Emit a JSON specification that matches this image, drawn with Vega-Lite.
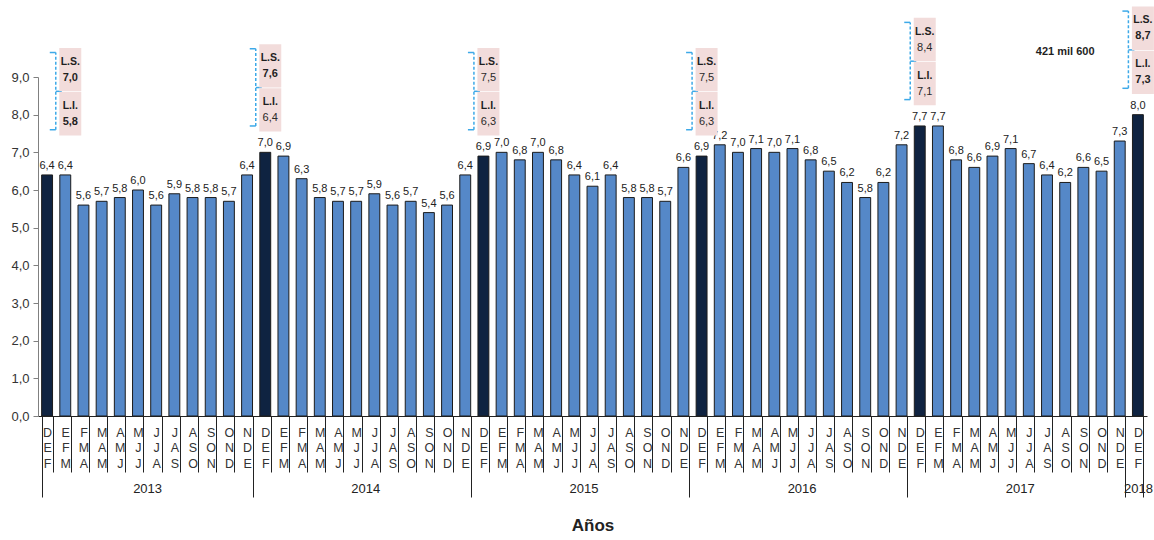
{
  "$schema": "https://vega.github.io/schema/vega-lite/v6.json",
  "autosize": {"type": "none"},
  "padding": {"left": 38, "top": 77, "right": 7, "bottom": 124},
  "width": 1109,
  "height": 339,
  "background": "white",
  "config": {
    "view": {"stroke": null},
    "font": "Liberation Sans",
    "text": {"font": "Liberation Sans"}
  },
  "data": {
    "values": [
      {"key": "2013 DEF", "year": 2013, "period": "DEF", "value": 6.4, "ls": 7.0, "li": 5.8},
      {"key": "2013 EFM", "year": 2013, "period": "EFM", "value": 6.4},
      {"key": "2013 FMA", "year": 2013, "period": "FMA", "value": 5.6},
      {"key": "2013 MAM", "year": 2013, "period": "MAM", "value": 5.7},
      {"key": "2013 AMJ", "year": 2013, "period": "AMJ", "value": 5.8},
      {"key": "2013 MJJ", "year": 2013, "period": "MJJ", "value": 6.0},
      {"key": "2013 JJA", "year": 2013, "period": "JJA", "value": 5.6},
      {"key": "2013 JAS", "year": 2013, "period": "JAS", "value": 5.9},
      {"key": "2013 ASO", "year": 2013, "period": "ASO", "value": 5.8},
      {"key": "2013 SON", "year": 2013, "period": "SON", "value": 5.8},
      {"key": "2013 OND", "year": 2013, "period": "OND", "value": 5.7},
      {"key": "2013 NDE", "year": 2013, "period": "NDE", "value": 6.4},
      {"key": "2014 DEF", "year": 2014, "period": "DEF", "value": 7.0, "ls": 7.6, "li": 6.4},
      {"key": "2014 EFM", "year": 2014, "period": "EFM", "value": 6.9},
      {"key": "2014 FMA", "year": 2014, "period": "FMA", "value": 6.3},
      {"key": "2014 MAM", "year": 2014, "period": "MAM", "value": 5.8},
      {"key": "2014 AMJ", "year": 2014, "period": "AMJ", "value": 5.7},
      {"key": "2014 MJJ", "year": 2014, "period": "MJJ", "value": 5.7},
      {"key": "2014 JJA", "year": 2014, "period": "JJA", "value": 5.9},
      {"key": "2014 JAS", "year": 2014, "period": "JAS", "value": 5.6},
      {"key": "2014 ASO", "year": 2014, "period": "ASO", "value": 5.7},
      {"key": "2014 SON", "year": 2014, "period": "SON", "value": 5.4},
      {"key": "2014 OND", "year": 2014, "period": "OND", "value": 5.6},
      {"key": "2014 NDE", "year": 2014, "period": "NDE", "value": 6.4},
      {"key": "2015 DEF", "year": 2015, "period": "DEF", "value": 6.9, "ls": 7.5, "li": 6.3},
      {"key": "2015 EFM", "year": 2015, "period": "EFM", "value": 7.0},
      {"key": "2015 FMA", "year": 2015, "period": "FMA", "value": 6.8},
      {"key": "2015 MAM", "year": 2015, "period": "MAM", "value": 7.0},
      {"key": "2015 AMJ", "year": 2015, "period": "AMJ", "value": 6.8},
      {"key": "2015 MJJ", "year": 2015, "period": "MJJ", "value": 6.4},
      {"key": "2015 JJA", "year": 2015, "period": "JJA", "value": 6.1},
      {"key": "2015 JAS", "year": 2015, "period": "JAS", "value": 6.4},
      {"key": "2015 ASO", "year": 2015, "period": "ASO", "value": 5.8},
      {"key": "2015 SON", "year": 2015, "period": "SON", "value": 5.8},
      {"key": "2015 OND", "year": 2015, "period": "OND", "value": 5.7},
      {"key": "2015 NDE", "year": 2015, "period": "NDE", "value": 6.6},
      {"key": "2016 DEF", "year": 2016, "period": "DEF", "value": 6.9, "ls": 7.5, "li": 6.3},
      {"key": "2016 EFM", "year": 2016, "period": "EFM", "value": 7.2},
      {"key": "2016 FMA", "year": 2016, "period": "FMA", "value": 7.0},
      {"key": "2016 MAM", "year": 2016, "period": "MAM", "value": 7.1},
      {"key": "2016 AMJ", "year": 2016, "period": "AMJ", "value": 7.0},
      {"key": "2016 MJJ", "year": 2016, "period": "MJJ", "value": 7.1},
      {"key": "2016 JJA", "year": 2016, "period": "JJA", "value": 6.8},
      {"key": "2016 JAS", "year": 2016, "period": "JAS", "value": 6.5},
      {"key": "2016 ASO", "year": 2016, "period": "ASO", "value": 6.2},
      {"key": "2016 SON", "year": 2016, "period": "SON", "value": 5.8},
      {"key": "2016 OND", "year": 2016, "period": "OND", "value": 6.2},
      {"key": "2016 NDE", "year": 2016, "period": "NDE", "value": 7.2},
      {"key": "2017 DEF", "year": 2017, "period": "DEF", "value": 7.7, "ls": 8.4, "li": 7.1},
      {"key": "2017 EFM", "year": 2017, "period": "EFM", "value": 7.7},
      {"key": "2017 FMA", "year": 2017, "period": "FMA", "value": 6.8},
      {"key": "2017 MAM", "year": 2017, "period": "MAM", "value": 6.6},
      {"key": "2017 AMJ", "year": 2017, "period": "AMJ", "value": 6.9},
      {"key": "2017 MJJ", "year": 2017, "period": "MJJ", "value": 7.1},
      {"key": "2017 JJA", "year": 2017, "period": "JJA", "value": 6.7},
      {"key": "2017 JAS", "year": 2017, "period": "JAS", "value": 6.4},
      {"key": "2017 ASO", "year": 2017, "period": "ASO", "value": 6.2},
      {"key": "2017 SON", "year": 2017, "period": "SON", "value": 6.6},
      {"key": "2017 OND", "year": 2017, "period": "OND", "value": 6.5},
      {"key": "2017 NDE", "year": 2017, "period": "NDE", "value": 7.3},
      {"key": "2018 DEF", "year": 2018, "period": "DEF", "value": 8.0, "ls": 8.7, "li": 7.3}
    ]
  },
  "resolve": {"axis": {"x": "independent", "y": "independent"}},
  "layer": [
    {
      "mark": {"type": "bar", "stroke": "#1c1c1c", "strokeWidth": 1},
      "encoding": {
        "x": {
          "field": "key", "type": "nominal", "sort": null,
          "scale": {"paddingInner": 0.4, "paddingOuter": 0.2},
          "axis": {
            "orient": "bottom",
            "title": null,
            "domainColor": "#222222",
            "tickBand": "extent",
            "tickSize": 56,
            "tickColor": "#222222",
            "labelExpr": "split(substring(datum.label, 5), '')",
            "labelAngle": 0,
            "labelBaseline": "top",
            "labelLineHeight": 15.5,
            "labelPadding": -46,
            "labelFontSize": 12.5,
            "labelColor": "#333333"
          }
        },
        "y": {
          "field": "value", "type": "quantitative",
          "scale": {"domain": [0, 9], "nice": false, "zero": true},
          "axis": {
            "title": null,
            "values": [0, 1, 2, 3, 4, 5, 6, 7, 8, 9],
            "labelExpr": "replace(format(datum.value, '.1f'), '.', ',')",
            "labelOverlap": false,
            "grid": false,
            "tickSize": 5,
            "tickColor": "#808080",
            "domainColor": "#808080",
            "labelColor": "#333333",
            "labelFontSize": 13,
            "labelPadding": 4
          }
        },
        "fill": {
          "condition": {"test": "datum.period == 'DEF'", "value": "#0F2341"},
          "value": "#5588C8"
        }
      }
    },
    {
      "transform": [
        {"calculate": "replace(format(datum.value, '.1f'), '.', ',')", "as": "label"}
      ],
      "mark": {"type": "text", "baseline": "bottom", "dy": -4, "fontSize": 11, "color": "#222222"},
      "encoding": {
        "x": {
          "field": "key", "type": "nominal", "sort": null,
          "axis": {
            "orient": "bottom",
            "domain": false,
            "title": "Años",
            "titleFontSize": 17,
            "titleFontWeight": "bold",
            "titleColor": "#222222",
            "titlePadding": 20,
            "tickBand": "extent",
            "tickSize": 81,
            "tickColor": "#222222",
            "tickOpacity": {
              "condition": {"test": "!isString(datum.value) || indexof(datum.value, 'NDE') >= 0 || datum.value == '2018 DEF'", "value": 1},
              "value": 0
            },
            "labelExpr": "indexof(datum.label, 'DEF') >= 0 ? substring(datum.label, 0, 4) : ''",
            "labelOffset": {
              "condition": {"test": "datum.value == '2018 DEF'", "value": 0},
              "value": 100
            },
            "labelAngle": 0,
            "labelBaseline": "top",
            "labelPadding": -15,
            "labelFontSize": 13,
            "labelColor": "#222222"
          }
        },
        "y": {"field": "value", "type": "quantitative", "axis": null},
        "text": {"field": "label"}
      }
    },
    {
      "transform": [
        {"filter": "datum.ls != null"},
        {"calculate": "datum.year == 2013 ? '2013 EFM' : datum.key", "as": "anchor"},
        {"calculate": "max(datum.value + 0.6, 7.5)", "as": "base"},
        {"calculate": "datum.base + 0.1", "as": "brBot"},
        {"calculate": "datum.base + 2.15", "as": "brTop"}
      ],
      "mark": {"type": "rule", "color": "#3DA9E8", "strokeWidth": 1.5, "strokeDash": [3, 2], "xOffset": -9.5},
      "encoding": {
        "x": {"field": "anchor", "type": "nominal", "sort": null, "axis": null},
        "y": {"field": "brBot", "type": "quantitative", "axis": null},
        "y2": {"field": "brTop"}
      }
    },
    {
      "transform": [
        {"filter": "datum.ls != null"},
        {"calculate": "datum.year == 2013 ? '2013 EFM' : datum.key", "as": "anchor"},
        {"calculate": "max(datum.value + 0.6, 7.5)", "as": "base"},
        {"calculate": "datum.base + 0.1", "as": "brBot"},
        {"calculate": "datum.base + 2.15", "as": "brTop"},
        {"fold": ["brBot", "brTop"], "as": ["end", "hookY"]}
      ],
      "mark": {"type": "tick", "color": "#3DA9E8", "size": 6, "thickness": 1.5, "xOffset": -12.5, "opacity": 1},
      "encoding": {
        "x": {"field": "anchor", "type": "nominal", "sort": null, "axis": null},
        "y": {"field": "hookY", "type": "quantitative", "axis": null}
      }
    },
    {
      "transform": [
        {"filter": "datum.ls != null"},
        {"calculate": "datum.year == 2013 ? '2013 EFM' : datum.key", "as": "anchor"},
        {"calculate": "max(datum.value + 0.6, 7.5) + 1.12", "as": "brMid"}
      ],
      "mark": {"type": "tick", "color": "#3DA9E8", "size": 6, "thickness": 1.5, "xOffset": -6.5, "opacity": 1},
      "encoding": {
        "x": {"field": "anchor", "type": "nominal", "sort": null, "axis": null},
        "y": {"field": "brMid", "type": "quantitative", "axis": null}
      }
    },
    {
      "transform": [
        {"filter": "datum.ls != null"},
        {"calculate": "datum.year == 2013 ? '2013 EFM' : datum.key", "as": "anchor"},
        {"calculate": "max(datum.value + 0.6, 7.5)", "as": "base"},
        {"fold": ["ls", "li"], "as": ["kind", "limit"]},
        {"calculate": "datum.kind == 'li' ? datum.base - 0.05 : datum.base + 1.12", "as": "boxLo"},
        {"calculate": "datum.boxLo + 1.15", "as": "boxHi"}
      ],
      "mark": {"type": "bar", "width": 22, "xOffset": 5, "fill": "#F2DCDB"},
      "encoding": {
        "x": {"field": "anchor", "type": "nominal", "sort": null, "axis": null},
        "y": {"field": "boxLo", "type": "quantitative", "axis": null},
        "y2": {"field": "boxHi"}
      }
    },
    {
      "transform": [
        {"filter": "datum.ls != null"},
        {"calculate": "datum.year == 2013 ? '2013 EFM' : datum.key", "as": "anchor"},
        {"calculate": "max(datum.value + 0.6, 7.5)", "as": "base"},
        {"fold": ["ls", "li"], "as": ["kind", "limit"]},
        {"calculate": "(datum.kind == 'li' ? datum.base - 0.05 : datum.base + 1.12) + 0.575", "as": "boxMid"},
        {"calculate": "datum.kind == 'ls' ? 'L.S.' : 'L.I.'", "as": "tag"}
      ],
      "mark": {"type": "text", "xOffset": 5, "dy": -8, "fontSize": 10.5, "fontWeight": "bold", "color": "#1f1f1f"},
      "encoding": {
        "x": {"field": "anchor", "type": "nominal", "sort": null, "axis": null},
        "y": {"field": "boxMid", "type": "quantitative", "axis": null},
        "text": {"field": "tag"}
      }
    },
    {
      "transform": [
        {"filter": "datum.ls != null"},
        {"calculate": "datum.year == 2013 ? '2013 EFM' : datum.key", "as": "anchor"},
        {"calculate": "max(datum.value + 0.6, 7.5)", "as": "base"},
        {"fold": ["ls", "li"], "as": ["kind", "limit"]},
        {"filter": "!(datum.year == 2013 || datum.year == 2018 || (datum.year == 2014 && datum.kind == 'ls'))"},
        {"calculate": "(datum.kind == 'li' ? datum.base - 0.05 : datum.base + 1.12) + 0.575", "as": "boxMid"},
        {"calculate": "replace(format(datum.limit, '.1f'), '.', ',')", "as": "limitText"}
      ],
      "mark": {"type": "text", "xOffset": 5, "dy": 8, "fontSize": 11, "color": "#2a2a2a"},
      "encoding": {
        "x": {"field": "anchor", "type": "nominal", "sort": null, "axis": null},
        "y": {"field": "boxMid", "type": "quantitative", "axis": null},
        "text": {"field": "limitText"}
      }
    },
    {
      "transform": [
        {"filter": "datum.ls != null"},
        {"calculate": "datum.year == 2013 ? '2013 EFM' : datum.key", "as": "anchor"},
        {"calculate": "max(datum.value + 0.6, 7.5)", "as": "base"},
        {"fold": ["ls", "li"], "as": ["kind", "limit"]},
        {"filter": "datum.year == 2013 || datum.year == 2018 || (datum.year == 2014 && datum.kind == 'ls')"},
        {"calculate": "(datum.kind == 'li' ? datum.base - 0.05 : datum.base + 1.12) + 0.575", "as": "boxMid"},
        {"calculate": "replace(format(datum.limit, '.1f'), '.', ',')", "as": "limitText"}
      ],
      "mark": {"type": "text", "xOffset": 5, "dy": 8, "fontSize": 11, "fontWeight": "bold", "color": "#1f1f1f"},
      "encoding": {
        "x": {"field": "anchor", "type": "nominal", "sort": null, "axis": null},
        "y": {"field": "boxMid", "type": "quantitative", "axis": null},
        "text": {"field": "limitText"}
      }
    },
    {
      "transform": [{"filter": "datum.key == '2017 ASO'"}],
      "mark": {"type": "text", "text": "421  mil 600", "fontSize": 11, "fontWeight": "bold", "color": "#1f1f1f"},
      "encoding": {
        "x": {"field": "key", "type": "nominal", "sort": null, "axis": null},
        "y": {"datum": 9.66, "type": "quantitative", "axis": null}
      }
    }
  ]
}
